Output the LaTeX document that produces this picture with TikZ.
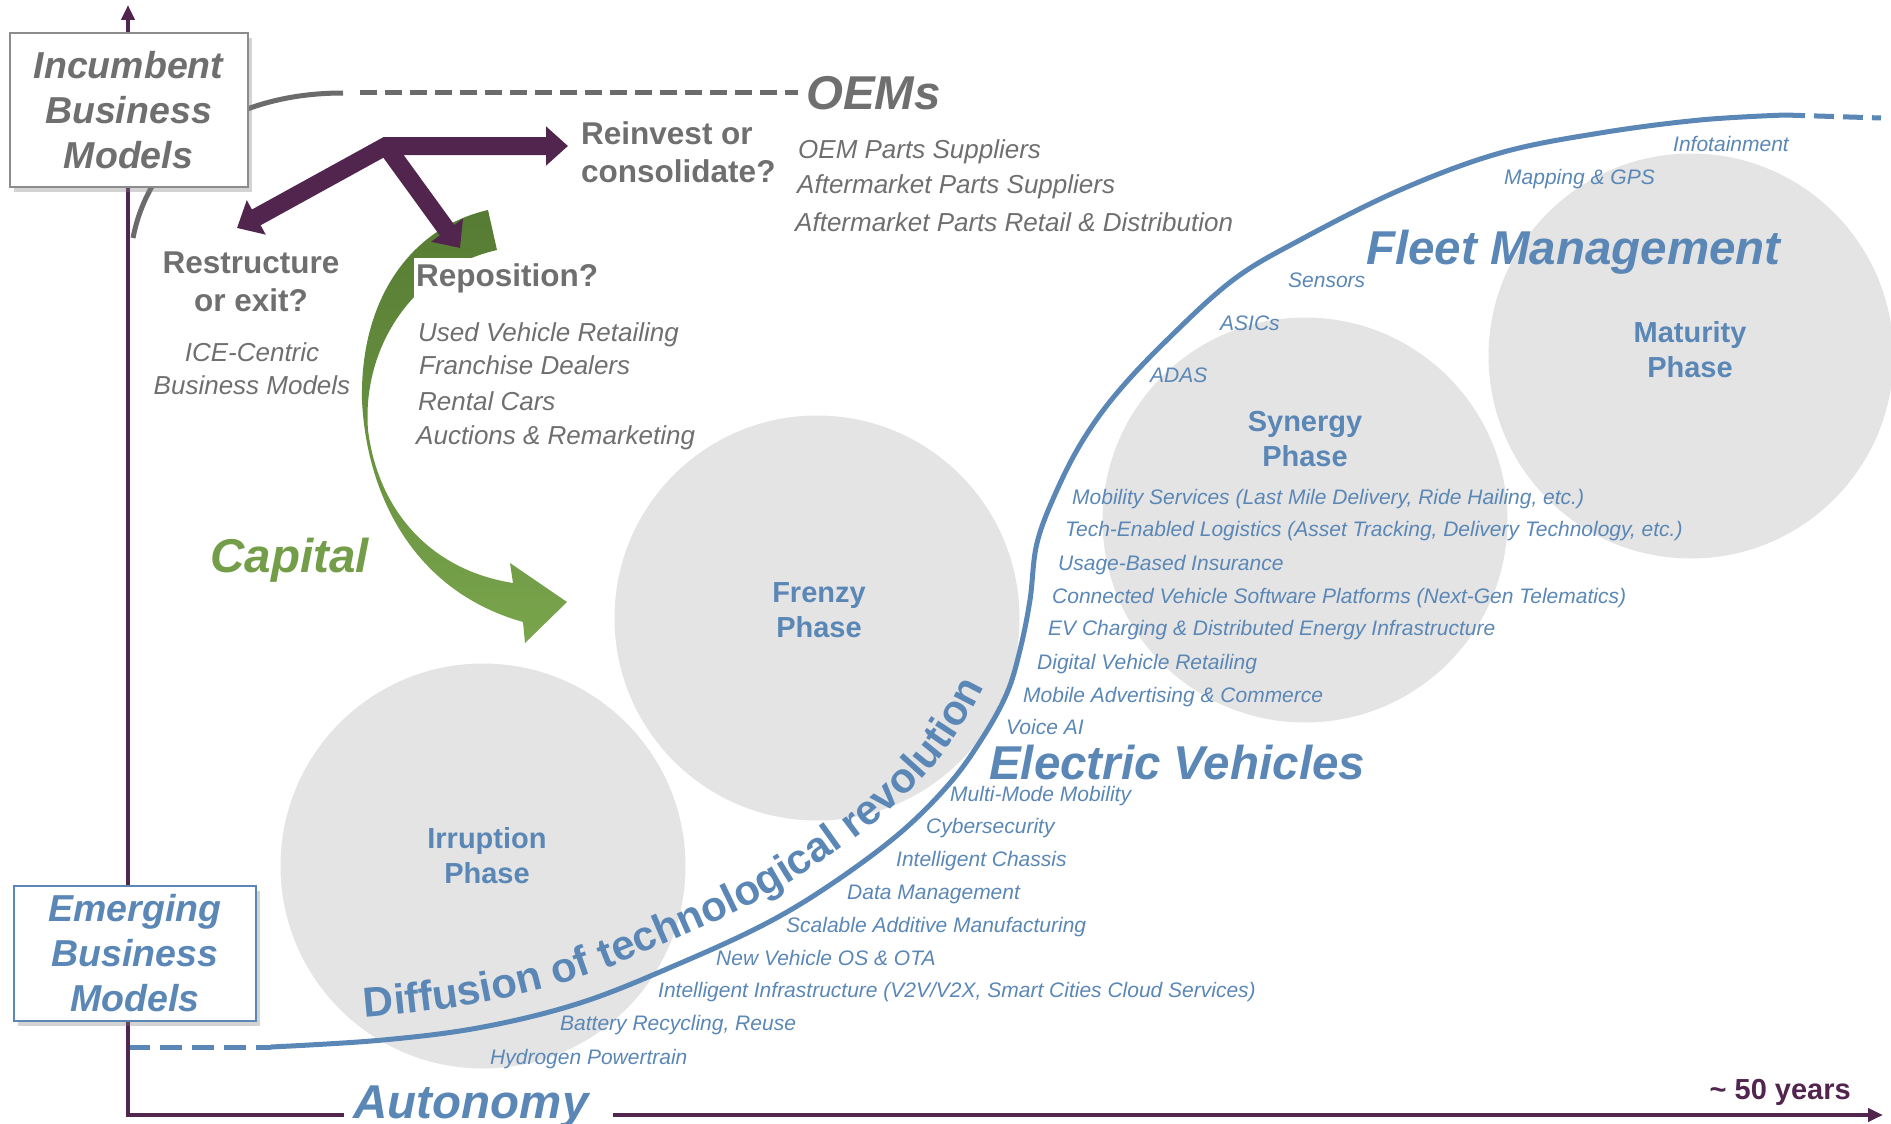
\documentclass[tikz,border=0pt]{standalone}
\usepackage{fontspec}
\setmainfont{Liberation Sans}
\usetikzlibrary{arrows.meta,positioning,shadows,decorations.text}

\definecolor{axispurple}{HTML}{52254E}
\definecolor{textgray}{HTML}{6F6F6F}
\definecolor{techblue}{HTML}{5A87B6}
\definecolor{capgreendark}{HTML}{567B33}
\definecolor{capgreenlight}{HTML}{79A54C}
\definecolor{phasefill}{HTML}{E4E4E4}

\begin{document}
\begin{tikzpicture}[x=1pt,y=-1pt,line join=miter]
        \tikzstyle{phase}=[circle, fill=phasefill, minimum size=405pt, inner sep=0pt]
        \tikzstyle{phaselabel}=[align=center, inner sep=0pt, text=techblue, font=\fontsize{29}{35}\selectfont\bfseries]
        \tikzstyle{bigtitle}=[inner sep=0pt, text height=34pt, text depth=0pt, font=\fontsize{47.5}{50}\selectfont\bfseries\itshape]
        \tikzstyle{techitem}=[anchor=west, inner sep=0pt, text height=15pt, text depth=0pt, text=techblue, font=\fontsize{21}{24}\selectfont\itshape]
        \tikzstyle{grayitem}=[anchor=west, inner sep=0pt, text height=18.6pt, text depth=0pt, text=textgray, font=\fontsize{26}{30}\selectfont\itshape]
        \tikzstyle{graynote}=[align=center, inner sep=0pt, text=textgray, font=\fontsize{26}{33}\selectfont\itshape]
        \tikzstyle{question}=[align=center, inner sep=0pt, text=textgray, font=\fontsize{31.5}{38.5}\selectfont\bfseries]
        \tikzstyle{modelbox}=[line width=2pt, fill=white, align=center, minimum width=238pt, drop shadow={shadow xshift=4pt, shadow yshift=-5pt, opacity=.35}, font=\fontsize{37.5}{45}\selectfont\bfseries\itshape]
        \tikzstyle{axisline}=[line width=4pt, draw=axispurple]
        \tikzstyle{choicearrow}=[line width=18pt, draw=axispurple]
        \tikzstyle{oemline}=[line width=5pt, draw=black!58]
        \tikzstyle{revolution}=[line width=5pt, draw=techblue]

        \useasboundingbox (0,0) rectangle (1891,1124);

        % the four phases
        \node[phase] (irruption) at (483,866) {};
        \node[phase] (frenzy)    at (817,618) {};
        \node[phase] (synergy)   at (1305,520) {};
        \node[phase] (maturity)  at (1691,356) {};

        \node[phaselabel] (irruptionlabel) at (487,855.5)  {Irruption\\Phase};
        \node[phaselabel] (frenzylabel)    at (819,610)    {Frenzy\\Phase};
        \node[phaselabel] (synergylabel)   at (1305,439)   {Synergy\\Phase};
        \node[phaselabel] (maturitylabel)  at (1690,349.5) {Maturity\\Phase};

        % diffusion curve
        \coordinate (emergingfoot) at (128,1047);
        \coordinate (curvestart)   at (271,1047);
        \coordinate (curveend)     at (1785,115);
        \coordinate (curvefade)    at (1881,118);

        \draw[revolution] plot[smooth, tension=.6] coordinates {(271,1047) (383,1040) (483,1027) (583,1002) (683,962) (767,923) (833,883) (900,833) (950,783) (983,737) (1007,693) (1020,650) (1030,600) (1037,543) (1057,490) (1083,440) (1117,393) (1167,340) (1233,280) (1300,240) (1400,190) (1500,153) (1600,133) (1700,120) (1785,115)};
        \draw[revolution, dash pattern=on 22pt off 10pt] (emergingfoot) -- (curvestart);
        \draw[revolution, dash pattern=on 20pt off 9pt] (curveend) -- (curvefade);
        \path[decorate, decoration={text along path, text color=techblue, text align={left, left indent=94pt},
                text={|\fontsize{42}{42}\selectfont\bfseries|Diffusion of technological revolution}}]
            plot[smooth, tension=.6] coordinates {(271,1023) (381,1016) (478.5,1003.4) (575.6,979.2) (673.5,939.9) (755.8,901.8) (819.6,863.1) (884.4,814.8) (931.9,767.3) (962.7,724.2) (984.9,683.6) (996.7,644.2) (1006.3,596.2)};

        % axes
        \coordinate (origin) at (128,1115);
        \coordinate (ytop)   at (128,5);
        \coordinate (xend)   at (1883,1115);
        \node[bigtitle, text=techblue] (autonomy) at (471,1101) {Autonomy};
        \path (autonomy.west |- origin) ++(-9,0) coordinate (gapleft);
        \path (autonomy.east |- origin) ++(24,0) coordinate (gapright);
        \draw[axisline, {Triangle[width=13pt,length=15pt]}-] (ytop) -- (origin) -- (gapleft);
        \draw[axisline, -{Triangle[width=13pt,length=15pt]}] (gapright) -- (xend);
        \node[anchor=east, inner sep=0pt, text height=21pt, text depth=0pt, text=axispurple,
              font=\fontsize{29}{30}\selectfont\bfseries] (span) at (1851,1089) {\char"007E{} 50 years};

        % incumbents and OEMs
        \coordinate (incumbentfoot) at (133,238);
        \coordinate (oembend)       at (343,93);
        \node[bigtitle, text=textgray, anchor=west] (oems) at (806,93) {OEMs};
        \draw[oemline] (incumbentfoot) .. controls (150,150) and (230,93) .. (oembend);
        \draw[oemline, dash pattern=on 17pt off 8pt, shorten >=8pt] (oembend) ++(17,0) -- (oems.west);

        \node[modelbox, draw=black!45, text=textgray, minimum height=154pt] (incumbent) at (128.5,110) {Incumbent\\Business\\Models};
        \node[modelbox, draw=techblue, text=techblue, minimum width=242pt, minimum height=135pt] (emerging) at (135,953.5) {Emerging\\Business\\Models};

        \node[grayitem] (oemparts)       at (798,149.5) {OEM Parts Suppliers};
        \node[grayitem] (aftersuppliers) at (797,184.5) {Aftermarket Parts Suppliers};
        \node[grayitem] (afterretail)    at (795,222)   {Aftermarket Parts Retail \& Distribution};

        % capital flow
        \shade[top color=capgreendark, bottom color=capgreenlight]
            (488,210) .. controls (410,228) and (360,300) .. (362,400)
            .. controls (366,490) and (410,590) .. (523,622)
            -- (525,643) -- (567,602) -- (510,563) -- (513,583)
            .. controls (430,570) and (378,510) .. (368,430)
            .. controls (362,350) and (410,270) .. (497,250) -- cycle;
        \node[bigtitle, text=capgreenlight!95!black] (capital) at (289.5,555) {Capital};

        \node[question, anchor=base west, fill=white, inner xsep=2pt, inner ysep=4pt, text height=24pt, text depth=7pt] (reposition) at (414,286) {Reposition?};
        \node[question] (restructure) at (251,282) {Restructure\\or exit?};
        \node[question, align=left, anchor=west] (reinvest) at (581,152) {Reinvest or\\consolidate?};
        \node[graynote] (icecentric) at (252,368.5) {ICE-Centric\\Business Models};

        % three choices
        \coordinate (fork)           at (386,146);
        \coordinate (reinvesttip)    at (568,146);
        \coordinate (restructuretip) at (237,228);
        \coordinate (repositiontip)  at (460,248);
        \draw[choicearrow, {Triangle[width=38pt,length=22pt]}-{Triangle[width=38pt,length=22pt]}] (restructuretip) -- (fork) -- (reinvesttip);
        \draw[choicearrow, -{Triangle[width=38pt,length=22pt]}] (fork) -- (repositiontip);

        \node[grayitem] (usedvehicle) at (418,332)   {Used Vehicle Retailing};
        \node[grayitem] (franchise)   at (419,365)   {Franchise Dealers};
        \node[grayitem] (rental)      at (418,401.5) {Rental Cars};
        \node[grayitem] (auctions)    at (416,435)   {Auctions \& Remarketing};

        % technologies along the curve
        \node[techitem] (infotainment) at (1673,143.5) {Infotainment};
        \node[techitem] (mapping)      at (1504,177)   {Mapping \& GPS};
        \node[bigtitle, text=techblue, anchor=west] (fleet) at (1366,247) {Fleet Management};
        \node[techitem] (sensors)      at (1288,280)   {Sensors};
        \node[techitem] (asics)        at (1220,323)   {ASICs};
        \node[techitem] (adas)         at (1150,375)   {ADAS};
        \node[techitem] (mobility)     at (1072,497)   {Mobility Services (Last Mile Delivery, Ride Hailing, etc.)};
        \node[techitem] (logistics)    at (1065,529)   {Tech-Enabled Logistics (Asset Tracking, Delivery Technology, etc.)};
        \node[techitem] (insurance)    at (1058,563)   {Usage-Based Insurance};
        \node[techitem] (platforms)    at (1052,596)   {Connected Vehicle Software Platforms (Next-Gen Telematics)};
        \node[techitem] (charging)     at (1048,628)   {EV Charging \& Distributed Energy Infrastructure};
        \node[techitem] (retailing)    at (1037,662)   {Digital Vehicle Retailing};
        \node[techitem] (advertising)  at (1023,695)   {Mobile Advertising \& Commerce};
        \node[techitem] (voice)        at (1006,727)   {Voice AI};
        \node[bigtitle, text=techblue, anchor=west] (electric) at (989,762) {Electric Vehicles};
        \node[techitem] (multimode)    at (950,793.5)  {Multi-Mode Mobility};
        \node[techitem] (cyber)        at (926,826)    {Cybersecurity};
        \node[techitem] (chassis)      at (896,859)    {Intelligent Chassis};
        \node[techitem] (data)         at (847,892)    {Data Management};
        \node[techitem] (additive)     at (786,925)    {Scalable Additive Manufacturing};
        \node[techitem] (vehicleos)    at (716,957.5)  {New Vehicle OS \& OTA};
        \node[techitem] (infra)        at (658,990)    {Intelligent Infrastructure (V2V/V2X, Smart Cities Cloud Services)};
        \node[techitem] (battery)      at (560,1023)   {Battery Recycling, Reuse};
        \node[techitem] (hydrogen)     at (490,1056.5) {Hydrogen Powertrain};
\end{tikzpicture}
\end{document}
